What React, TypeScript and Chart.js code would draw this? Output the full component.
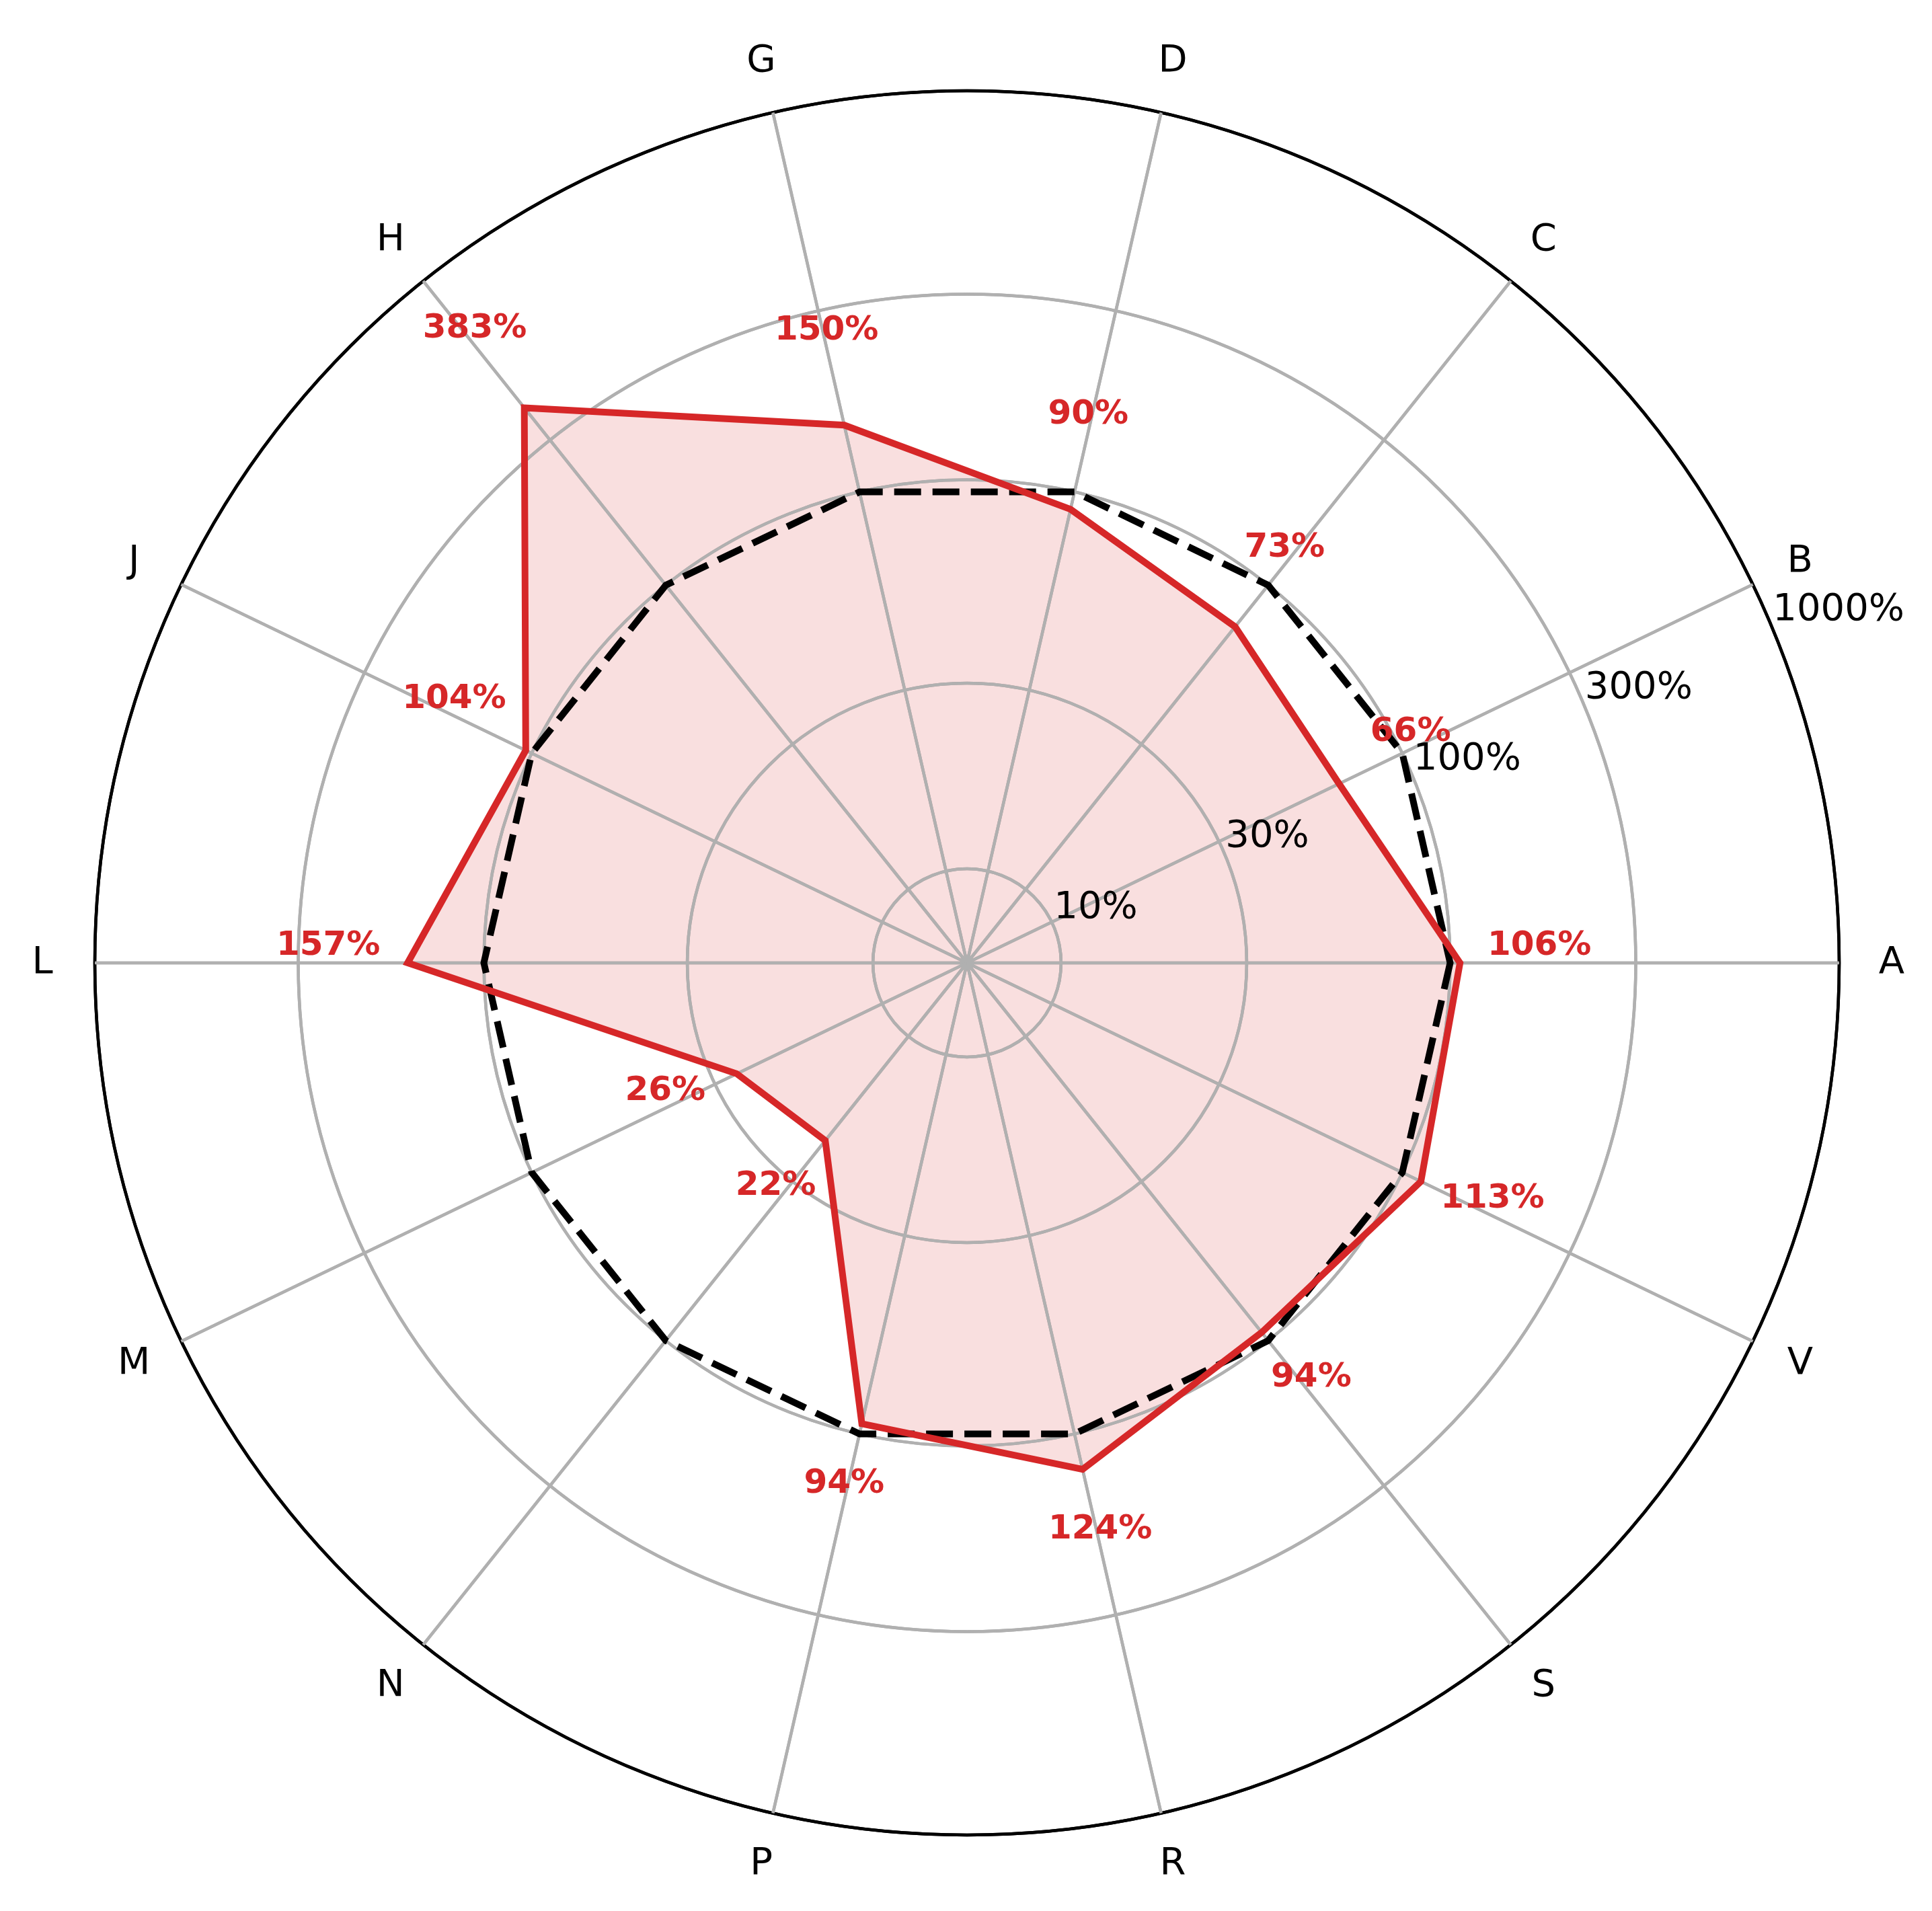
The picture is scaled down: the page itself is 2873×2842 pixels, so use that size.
import React, { useEffect, useRef } from 'react';
import { Chart, registerables } from 'chart.js';

Chart.register(...registerables);

// ---- data (counter-clockwise from the right-hand axis) ----
const categories = ['A', 'B', 'C', 'D', 'G', 'H', 'J', 'L', 'M', 'N', 'P', 'R', 'S', 'V'];
const actualValues = [106, 66, 73, 90, 150, 383, 104, 157, 26, 22, 94, 124, 94, 113];
const referenceValues = [100, 100, 100, 100, 100, 100, 100, 100, 100, 100, 100, 100, 100, 100];
const tickValues = [10, 30, 100, 300, 1000];
const tickLabels = ['10%', '30%', '100%', '300%', '1000%'];
const radialMin = 5.73; // percent at the centre
const radialMax = 1000; // percent at the rim
const labelFactor = 1.6; // value labels sit at value * factor (log scale)

const RED = '#d62728';
const GRID = '#b0b0b0';
const FONT = '"DejaVu Sans", "Liberation Sans", sans-serif';

// Chart.js walks clockwise; the reference walks counter-clockwise.
const order = [0, ...categories.slice(1).map((_, i) => categories.length - 1 - i)];
const chartLabels = order.map((i) => categories[i]);
const log = (v: number) => Math.log10(v);

const gridOverFill = {
  id: 'gridOverFill',
  afterDatasetDraw(chart: any, args: any) {
    if (args.index === 0) {
      const s = chart.scales.r;
      s.drawGrid();
    }
  },
};

const textPlugin = {
  id: 'textPlugin',
  afterDraw(chart: any) {
    const s = chart.scales.r;
    const ctx = chart.ctx;
    ctx.save();
    // category labels
    ctx.font = `56px ${FONT}`;
    ctx.fillStyle = '#000';
    ctx.textAlign = 'center';
    ctx.textBaseline = 'middle';
    chartLabels.forEach((lab, j) => {
      const p = s.getPointPosition(j, s.drawingArea + 78);
      ctx.fillText(lab, p.x, p.y);
    });
    // radial tick labels at 22.5 degrees
    ctx.textAlign = 'left';
    ctx.textBaseline = 'bottom';
    const ang = (22.5 * Math.PI) / 180;
    tickValues.forEach((v, k) => {
      const r = s.getDistanceFromCenterForValue(log(v));
      ctx.fillText(tickLabels[k], s.xCenter + r * Math.cos(ang), s.yCenter - r * Math.sin(ang));
    });
    // value labels
    ctx.font = `bold 50px ${FONT}`;
    ctx.fillStyle = RED;
    ctx.textAlign = 'center';
    ctx.textBaseline = 'bottom';
    order.forEach((i, j) => {
      const v = actualValues[i];
      const p = s.getPointPositionForValue(j, log(v * labelFactor));
      ctx.fillText(`${v}%`, p.x, p.y);
    });
    ctx.restore();
  },
};

export default function App() {
  const ref = useRef<HTMLCanvasElement | null>(null);

  useEffect(() => {
    document.body.style.margin = '0';
    document.body.style.overflow = 'hidden';
    const canvas = ref.current;
    if (!canvas) return;
    const chart = new Chart(canvas, {
      type: 'radar',
      data: {
        labels: chartLabels,
        datasets: [
          {
            label: 'fill',
            data: order.map((i) => log(actualValues[i])),
            backgroundColor: 'rgba(214,39,40,0.15)',
            borderColor: 'rgba(0,0,0,0)',
            borderWidth: 0,
            pointRadius: 0,
            fill: 'start',
            order: 3,
          },
          {
            label: 'reference',
            data: order.map((i) => log(referenceValues[i])),
            borderColor: '#000000',
            borderWidth: 10,
            borderDash: [40, 17],
            pointRadius: 0,
            fill: false,
            order: 2,
          },
          {
            label: 'actual',
            data: order.map((i) => log(actualValues[i])),
            borderColor: RED,
            borderWidth: 10,
            borderJoinStyle: 'miter',
            pointRadius: 0,
            fill: false,
            order: 1,
          },
        ],
      },
      options: {
        animation: false,
        responsive: false,
        devicePixelRatio: 1,
        events: [],
        layout: { padding: { left: 141, right: 138, top: 135, bottom: 113 } },
        plugins: { legend: { display: false }, tooltip: { enabled: false } },
        elements: { line: { tension: 0 } },
        scales: {
          r: {
            type: 'radialLinear',
            startAngle: 90,
            min: log(radialMin),
            max: log(radialMax),
            beginAtZero: false,
            afterBuildTicks: (scale: any) => {
              scale.ticks = [log(radialMin), ...tickValues.map(log)].map((value) => ({ value }));
            },
            ticks: { display: false },
            pointLabels: { display: false },
            grid: {
              circular: true,
              color: (c: any) => (c.tick && c.tick.value > 2.99 ? '#000000' : GRID),
              lineWidth: 4.5,
            },
            angleLines: { display: true, color: GRID, lineWidth: 4.5 },
          },
        },
      } as any,
      plugins: [gridOverFill, textPlugin],
    });
    return () => chart.destroy();
  }, []);

  return (
    <div style={{ position: 'absolute', left: 0, top: 0, width: 2873, height: 2842, background: '#fff' }}>
      <canvas ref={ref} width={2873} height={2842} style={{ width: 2873, height: 2842, display: 'block' }} />
    </div>
  );
}
